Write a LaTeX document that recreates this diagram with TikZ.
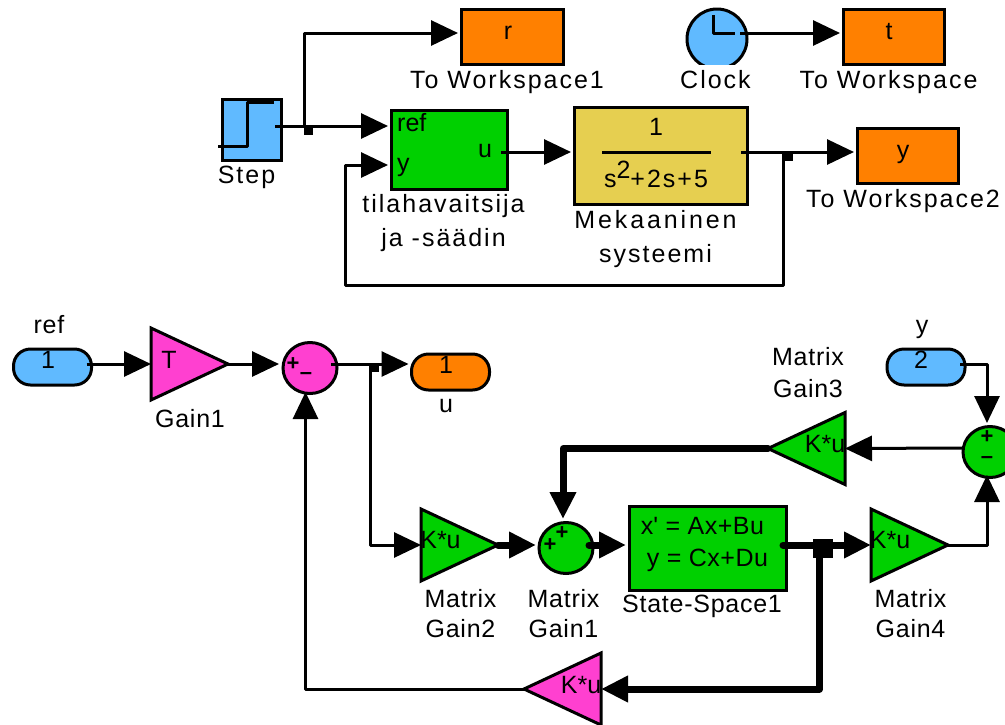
\documentclass[tikz,border=0pt]{standalone}
\usepackage{fontspec}
\setmainfont{Liberation Sans}
\newfontfamily\rawf{Liberation Sans}
\usetikzlibrary{arrows.meta,calc,shapes.geometric}
\definecolor{cOrange}{HTML}{FF8000}
\definecolor{cGreen}{HTML}{00D000}
\definecolor{cBlue}{HTML}{60BAFF}
\definecolor{cPink}{HTML}{FF40D0}
\definecolor{cYellow}{HTML}{E6CF50}
\tikzset{
  x=1pt,y=-1pt,
  blockbox/.style={draw=black,line width=3pt,inner sep=0pt,outer sep=0pt,rectangle},
  pill/.style={blockbox,rounded corners=17pt,minimum width=78pt,minimum height=36pt},
  sumnode/.style={draw=black,line width=3pt,inner sep=0pt,outer sep=0pt,ellipse,minimum width=54pt,minimum height=51pt},
  gainright/.style={draw=black,line width=3pt,inner sep=0pt,outer sep=0pt,isosceles triangle,isosceles triangle stretches,minimum width=72pt,minimum height=77pt,anchor=lower side},
  gainleft/.style={gainright,shape border rotate=180},
  lbl/.style={inner sep=0pt,anchor=base,font=\fontsize{25}{25}\selectfont\addfontfeature{LetterSpace=3}},
  lblw/.style={inner sep=0pt,anchor=base,font=\fontsize{25}{25}\selectfont\addfontfeature{LetterSpace=8}},
  lblm/.style={inner sep=0pt,anchor=base,font=\fontsize{25}{25}\selectfont\addfontfeature{LetterSpace=11.5}},
  txt/.style={inner sep=0pt,anchor=base,font=\fontsize{25}{25}\selectfont},
  txtw/.style={inner sep=0pt,anchor=base,font=\fontsize{25}{25}\selectfont\addfontfeature{LetterSpace=2}},
  sgn/.style={inner sep=0pt,anchor=center,font=\fontsize{22}{22}\selectfont\bfseries},
  wire/.style={draw=black,line width=3pt,line join=round},
  arr/.style={wire,-{Triangle[length=27pt,width=25pt]}},
  thickwire/.style={draw=black,line width=7pt,line join=round,line cap=round},
  thickarr/.style={thickwire,-{Triangle[length=27pt,width=25pt]}},
  junction/.style={fill=black,inner sep=0pt,outer sep=0pt,rectangle},
}
\begin{document}
\begin{tikzpicture}
\useasboundingbox (0,0) rectangle (1005,724);
\fill[white] (0,0) rectangle (1005,724);

% upper blocks
\node[blockbox,fill=cOrange,minimum width=102pt,minimum height=55pt] (r) at (512,36.5) {};
\node[blockbox,fill=cOrange,minimum width=101pt,minimum height=55pt] (t) at (893.5,36.5) {};
\node[blockbox,fill=cOrange,minimum width=101pt,minimum height=55pt] (y) at (907.5,155.5) {};
\node[blockbox,fill=cBlue,minimum width=59pt,minimum height=61pt] (step) at (251.5,129.5) {};
\node[blockbox,fill=cGreen,minimum width=116pt,minimum height=79pt] (ctrl) at (449,149.5) {};
\node[blockbox,fill=cYellow,minimum width=173pt,minimum height=97pt] (plant) at (660.5,155.5) {};
\begin{scope}
  \clip (680,0) rectangle (760,64.5);
  \node[draw=black,line width=3pt,fill=cBlue,circle,inner sep=0pt,outer sep=0pt,minimum size=60pt] (clock) at (717,39) {};
\end{scope}

% icons
\draw[wire] (218,146) -- (247,146) -- (247,102) -- (274,102);
\draw[wire] (713,15) -- (713,33) -- (735,33);
\draw[draw=black,line width=3pt] (602,152) -- (711,152);

% lower blocks
\node[pill,fill=cBlue] (inA) at (52.5,367) {};
\node[pill,fill=cOrange] (outU) at (450.5,372) {};
\node[pill,fill=cBlue] (inB) at (926,367) {};
\node[gainright,fill=cPink] (gT) at (151,364) {};
\node[sumnode,fill=cPink] (sumA) at (310,368) {};
\node[gainright,fill=cGreen] (gM2) at (421,545) {};
\node[sumnode,fill=cGreen] (sumB) at (566,548) {};
\node[blockbox,fill=cGreen,minimum width=157pt,minimum height=84pt] (ss) at (707.5,548) {};
\node[gainright,fill=cGreen] (gM4) at (871,545) {};
\node[gainleft,fill=cGreen] (gM3) at (845,448.5) {};
\begin{scope}
  \clip (950,420) rectangle (1005,485);
  \node[sumnode,fill=cGreen] (sumC) at (990,452) {};
\end{scope}
\begin{scope}
  \clip (515,645) rectangle (610,724);
  \node[gainleft,fill=cPink] (gK) at (601,689) {};
\end{scope}

% branch points
\node[junction,minimum width=9pt,minimum height=9pt] (j1) at (308.5,130.5) {};
\node[junction,minimum width=10pt,minimum height=9pt] (j2) at (788,156.5) {};
\node[junction,minimum width=9pt,minimum height=8pt] (j3) at (374.5,368) {};
\node[junction,minimum width=20pt,minimum height=19pt] (j4) at (823,548.5) {};

% ports
\coordinate (stepOut) at ($(step.east)+(-6,-3.5)$);
\coordinate (ctrlRef) at ($(ctrl.west)+(-3,-23.5)$);
\coordinate (ctrlY) at ($(ctrl.west)+(-3,15.5)$);
\coordinate (ctrlOut) at ($(ctrl.east)+(-6,2.5)$);
\coordinate (plantIn) at ($(plant.west)+(-3,-3.5)$);
\coordinate (plantOut) at ($(plant.east)+(-6,-3.5)$);
\coordinate (rIn) at ($(r.west)+(-3,-3.5)$);
\coordinate (tIn) at ($(t.west)+(-3,-3.5)$);
\coordinate (yIn) at ($(y.west)+(-3,-3.5)$);
\coordinate (clockOut) at (740,33);
\coordinate (inAOut) at ($(inA.east)+(-5,-3)$);
\coordinate (inBOut) at ($(inB.east)+(-5,-3)$);
\coordinate (sumAIn) at (279,364);
\coordinate (sumAOut) at (331,364);
\coordinate (sumAFb) at (305.5,392);
\coordinate (outUIn) at ($(outU.west)+(-3,-8)$);
\coordinate (sumBIn) at (536,545);
\coordinate (sumBOut) at (589,545);
\coordinate (sumBFb) at (563,519);
\coordinate (ssIn) at ($(ss.west)+(-3,-3)$);
\coordinate (ssOut) at ($(ss.east)+(-3,-3)$);
\coordinate (sumCTop) at (987,423);
\coordinate (sumCBot) at (987,475);
\coordinate (sumCOut) at (963,448);
\coordinate (j4Down) at ($(j4.south)+(-3.5,0)$);

% connectors, thin
\draw[arr] (stepOut) -- (ctrlRef);
\draw[arr] (j1.north west) |- (rIn);
\draw[arr] (clockOut) -- (tIn);
\draw[arr] (ctrlOut) -- (plantIn);
\draw[arr] (plantOut) -- (yIn);
\draw[arr] (j2.north west) -- (783,285) -| (345,165) -- (ctrlY);
\draw[arr] (inAOut) -- (gT.lower side);
\draw[arr] (gT.apex) -- (sumAIn);
\draw[arr] (sumAOut) -- (outUIn);
\draw[arr] (j3.north west) |- (gM2.lower side);
\draw[arr] (gK.apex) -| (sumAFb);
\draw[arr] (inBOut) -| (sumCTop);
\draw[arr] (gM4.apex) -| (sumCBot);
\draw[arr] (sumCOut) -- (gM3.lower side);

% connectors, heavy
\draw[thickarr] (gM2.apex) -- (sumBIn);
\draw[thickarr] (sumBOut) -- (ssIn);
\draw[thickarr] (ssOut) -- (gM4.lower side);
\draw[thickarr] (gM3.apex) -| (sumBFb);
\draw[thickarr] (j4Down) |- (gK.lower side);

% texts, upper part
\node[txt] (tr) at (508,39) {r};
\node[txt] (tt) at (889,39) {t};
\node[txt] (ty) at (903,158) {y};
\node[lblw] (l1) at (507,88) {To Workspace1};
\node[lblw] (l2) at (715.5,88) {Clock};
\node[lblw] (l3) at (888.5,88) {To Workspace};
\node[lblw] (l4) at (246.5,183) {Step};
\node[lblw] (l5) at (443.5,212) {tilahavaitsija};
\node[lblw] (l6) at (443.5,246) {ja -säädin};
\node[lblm] (l7) at (655.5,228) {Mekaaninen};
\node[lblw] (l8) at (655.5,262) {systeemi};
\node[lblw] (l9) at (903,207) {To Workspace2};
\node[txt,anchor=base west] (pRef) at (397,131) {ref};
\node[txt,anchor=base west] (pY) at (397,171) {y};
\node[txt,anchor=base west] (pU) at (478,157) {u};
\node[txt] (num) at (656,135) {1};
\node[lblw] (den) at (656,187) {s\raisebox{9pt}{2}+2s+5};

% texts, lower part
\node[lbl] (l10) at (49,333) {ref};
\node[txt] (tA1) at (48,368) {1};
\node[txt] (tT) at (169,368) {T};
\node[lbl] (l11) at (190,427) {Gain1};
\node[txt] (tU1) at (446,373) {1};
\node[lbl] (l12) at (446,412) {u};
\node[sgn] (sA1) at (293,364) {+};
\node[sgn] (sA2) at (306,376) {–};
\node[txt] (kM2) at (440.5,548) {K*u};
\node[lbl] (l13) at (460.5,607) {Matrix};
\node[lbl] (l14) at (460.5,637) {Gain2};
\node[sgn] (sB1) at (550,545) {+};
\node[sgn] (sB2) at (562,533) {+};
\node[lbl] (l15) at (563.5,607) {Matrix};
\node[lbl] (l16) at (563.5,637) {Gain1};
\node[txtw] (eq1) at (702.5,534) {x{\rawf '} = Ax+Bu};
\node[txtw] (eq2) at (707.5,566) {y = Cx+Du};
\node[lbl] (l17) at (702,612) {State-Space1};
\node[txt] (kM4) at (890,548) {K*u};
\node[lbl] (l18) at (910.5,607) {Matrix};
\node[lbl] (l19) at (910.5,637) {Gain4};
\node[lbl] (l20) at (808,365) {Matrix};
\node[lbl] (l21) at (808,397) {Gain3};
\node[lbl] (l22) at (922,333) {y};
\node[txt] (tB2) at (921,368) {2};
\node[txt] (kM3) at (825,452) {K*u};
\node[sgn] (sC1) at (987,437) {+};
\node[sgn] (sC2) at (987,460) {–};
\node[txt] (kK) at (581,693) {K*u};
\end{tikzpicture}
\end{document}
